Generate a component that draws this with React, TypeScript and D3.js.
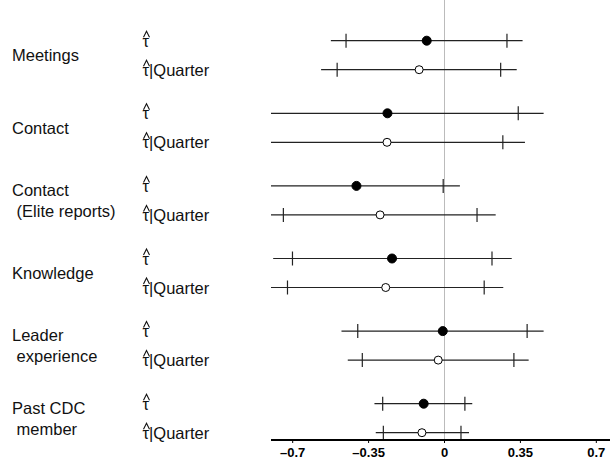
import React from "react";
import * as d3 from "d3";

// groups (two-line labels split with \n)
const groups = ["Meetings", "Contact", "Contact\n (Elite reports)", "Knowledge", "Leader\n experience", "Past CDC\n member"];

// tau-hat: estimate, inner interval, outer interval
const tauEst = [-0.082, -0.263, -0.406, -0.242, -0.008, -0.096];
const tauLo1 = [-0.454, -0.86, -0.9, -0.701, -0.4, -0.285];
const tauHi1 = [0.288, 0.34, -0.006, 0.219, 0.381, 0.094];
const tauLo2 = [-0.524, -1.0, -1.1, -0.79, -0.475, -0.323];
const tauHi2 = [0.36, 0.457, 0.071, 0.31, 0.457, 0.128];

// tau-hat | Quarter
const qEst = [-0.117, -0.265, -0.297, -0.271, -0.029, -0.104];
const qLo1 = [-0.495, -0.83, -0.743, -0.724, -0.379, -0.282];
const qHi1 = [0.259, 0.269, 0.15, 0.183, 0.32, 0.076];
const qLo2 = [-0.569, -0.95, -0.85, -0.82, -0.446, -0.317];
const qHi2 = [0.333, 0.371, 0.236, 0.271, 0.388, 0.113];

const xTicks = [-0.7, -0.35, 0, 0.35, 0.7];

export default function App() {
  const w = 610;
  const h = 464;
  const axisY = 440;
  const font = "'Liberation Sans', Arial, sans-serif";

  const x = d3.scaleLinear().domain([-0.8, 0.8]).range([271, 618]);
  const y = d3.scalePoint<string>().domain(groups).range([40.7, 403.7]);
  const gap = 29;

  const rows: { y: number; est: number; lo1: number; hi1: number; lo2: number; hi2: number; filled: boolean }[] = [];
  groups.forEach((g, i) => {
    const yy = y(g) as number;
    rows.push({ y: yy, est: tauEst[i], lo1: tauLo1[i], hi1: tauHi1[i], lo2: tauLo2[i], hi2: tauHi2[i], filled: true });
    rows.push({ y: yy + gap, est: qEst[i], lo1: qLo1[i], hi1: qHi1[i], lo2: qLo2[i], hi2: qHi2[i], filled: false });
  });

  const fmt = (d: number) => (d === 0 ? "0" : (d < 0 ? "\u2013" : "") + String(Math.abs(d)));

  return (
    <svg width={w} height={h} style={{ position: "absolute", left: 0, top: 0, background: "#fff" }} fontFamily={font}>
      <defs>
        <clipPath id="plot">
          <rect x={x(-0.8)} y={0} width={w - x(-0.8)} height={axisY} />
        </clipPath>
      </defs>

      {/* zero line */}
      <line x1={x(0)} x2={x(0)} y1={0} y2={axisY} stroke="#bbb" strokeWidth={1} />

      {/* group labels */}
      {groups.map((g) => {
        const lines = g.split("\n");
        const mid = (y(g) as number) + gap / 2;
        return (
          <text key={g} x={12} fontSize={16.5} fill="#111" style={{ whiteSpace: "pre" }}>
            {lines.map((l, j) => (
              <tspan key={j} x={12} y={mid + 6 + (j - (lines.length - 1) / 2) * 21}>
                {l}
              </tspan>
            ))}
          </text>
        );
      })}

      {/* row labels: tau with a hat drawn above */}
      {rows.map((r, i) => (
        <g key={"r" + i}>
          <text x={142.5} y={r.y + 6} fontSize={16.5} fill="#111">
            {r.filled ? "\u03c4" : "\u03c4|Quarter"}
          </text>
          <path
            d={`M143.5,${r.y - 3.5} L146.5,${r.y - 9.5} L149.5,${r.y - 3.5}`}
            fill="none"
            stroke="#111"
            strokeWidth={1.1}
          />
        </g>
      ))}

      {/* intervals */}
      <g clipPath="url(#plot)">
        {rows.map((r, i) => (
          <g key={"ci" + i}>
            <line x1={x(r.lo2)} x2={x(r.hi2)} y1={r.y} y2={r.y} stroke="#222" strokeWidth={1.2} />
            {[r.lo1, r.hi1].map((v, k) => (
              <line key={k} x1={x(v)} x2={x(v)} y1={r.y - 7} y2={r.y + 7} stroke="#222" strokeWidth={1.2} />
            ))}
            <circle cx={x(r.est)} cy={r.y} r={r.filled ? 4.5 : 4} fill={r.filled ? "#000" : "#fff"} stroke="#000" strokeWidth={1} />
          </g>
        ))}
      </g>

      {/* x axis */}
      <line x1={x(-0.8)} x2={w} y1={axisY} y2={axisY} stroke="#000" strokeWidth={2} />
      {xTicks.map((t) => (
        <g key={t} transform={`translate(${x(t)},${axisY})`}>
          <line y1={0} y2={3} stroke="#000" strokeWidth={1} />
          <text y={16.5} textAnchor="middle" fontSize={13} fontWeight="bold" fill="#000">
            {fmt(t)}
          </text>
        </g>
      ))}
    </svg>
  );
}
